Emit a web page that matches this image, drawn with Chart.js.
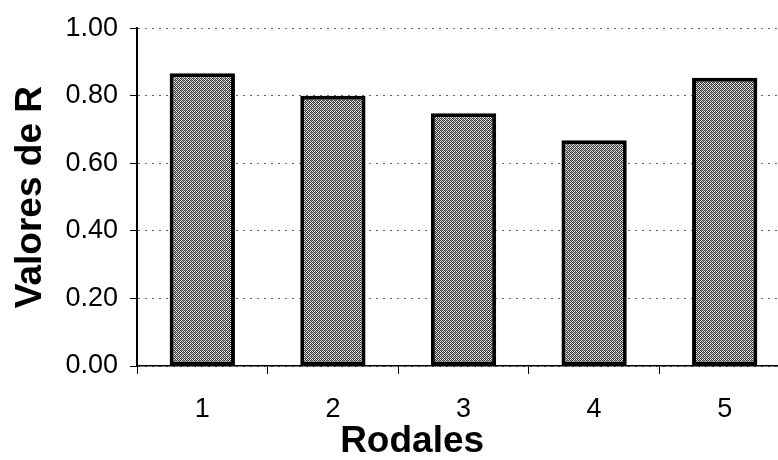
<!DOCTYPE html>
<html>
<head>
<meta charset="utf-8">
<script src="https://cdn.jsdelivr.net/npm/chart.js@4/dist/chart.umd.min.js"></script>
<style>
  html, body { margin: 0; padding: 0; background: #fff; overflow: hidden; }
  #wrap { width: 790px; height: 460px; }
</style>
</head>
<body>
<div id="wrap"><canvas id="rChart"></canvas></div>
<script>
// data
const rodales = ['1', '2', '3', '4', '5'];
const valoresR = [0.867, 0.80, 0.748, 0.668, 0.853];
const yTicks = [0, 0.2, 0.4, 0.6, 0.8, 1.0];

// stippled grey fill like the scanned bars
function makeStipple() {
  const c = document.createElement('canvas');
  c.width = 4;
  c.height = 4;
  const g = c.getContext('2d');
  const dark = '#363636', light = '#e8e8e8', mid = '#959595';
  const cells = [
    [dark, light, dark, mid],
    [light, dark, light, dark],
    [dark, mid, dark, light],
    [light, dark, light, dark]
  ];
  cells.forEach((row, y) => row.forEach((col, x) => {
    g.fillStyle = col;
    g.fillRect(x, y, 1, 1);
  }));
  return g.createPattern(c, 'repeat');
}

const ctx = document.getElementById('rChart').getContext('2d');

new Chart(ctx, {
  type: 'bar',
  data: {
    labels: rodales,
    datasets: [{
      label: 'Valores de R',
      data: valoresR,
      backgroundColor: makeStipple(),
      borderColor: '#000',
      borderWidth: 4,
      borderSkipped: false,
      categoryPercentage: 1,
      barPercentage: 0.5
    }]
  },
  options: {
    responsive: true,
    maintainAspectRatio: false,
    animation: false,
    layout: { padding: { top: 27, right: 0, left: 0, bottom: 0 } },
    plugins: {
      legend: { display: false },
      tooltip: { enabled: false }
    },
    scales: {
      x: {
        offset: true,
        grid: {
          display: true,
          offset: true,
          drawOnChartArea: false,
          tickLength: 8,
          tickColor: '#000',
          tickWidth: 1
        },
        border: { display: true, color: '#000', width: 1.5 },
        ticks: {
          color: '#000',
          padding: 19,
          maxRotation: 0,
          font: { family: '"Liberation Sans", Arial, sans-serif', size: 27 }
        },
        title: {
          display: true,
          text: 'Rodales' + '\u00a0'.repeat(10),
          color: '#000',
          padding: { top: 0, bottom: 0 },
          font: { family: '"Liberation Sans", Arial, sans-serif', size: 37, weight: 'bold', lineHeight: 1 }
        },
        afterFit: (scale) => { scale.height = 94; }
      },
      y: {
        min: 0,
        max: 1,
        afterBuildTicks: (scale) => {
          scale.ticks = yTicks.map(v => ({ value: v }));
        },
        grid: {
          color: '#666',
          lineWidth: 1,
          tickLength: 7,
          tickColor: '#000',
          tickBorderDash: [],
          tickWidth: 1
        },
        border: { display: true, color: '#000', width: 2, dash: [2, 5] },
        ticks: {
          color: '#000',
          padding: 12,
          callback: (v) => Number(v).toFixed(2),
          font: { family: '"Liberation Sans", Arial, sans-serif', size: 27 }
        },
        title: {
          display: true,
          text: 'Valores de R',
          color: '#000',
          padding: { top: 9, bottom: 0 },
          font: { family: '"Liberation Sans", Arial, sans-serif', size: 37, weight: 'bold' }
        },
        afterFit: (scale) => { scale.width = 137; }
      }
    }
  }
});
</script>
</body>
</html>
